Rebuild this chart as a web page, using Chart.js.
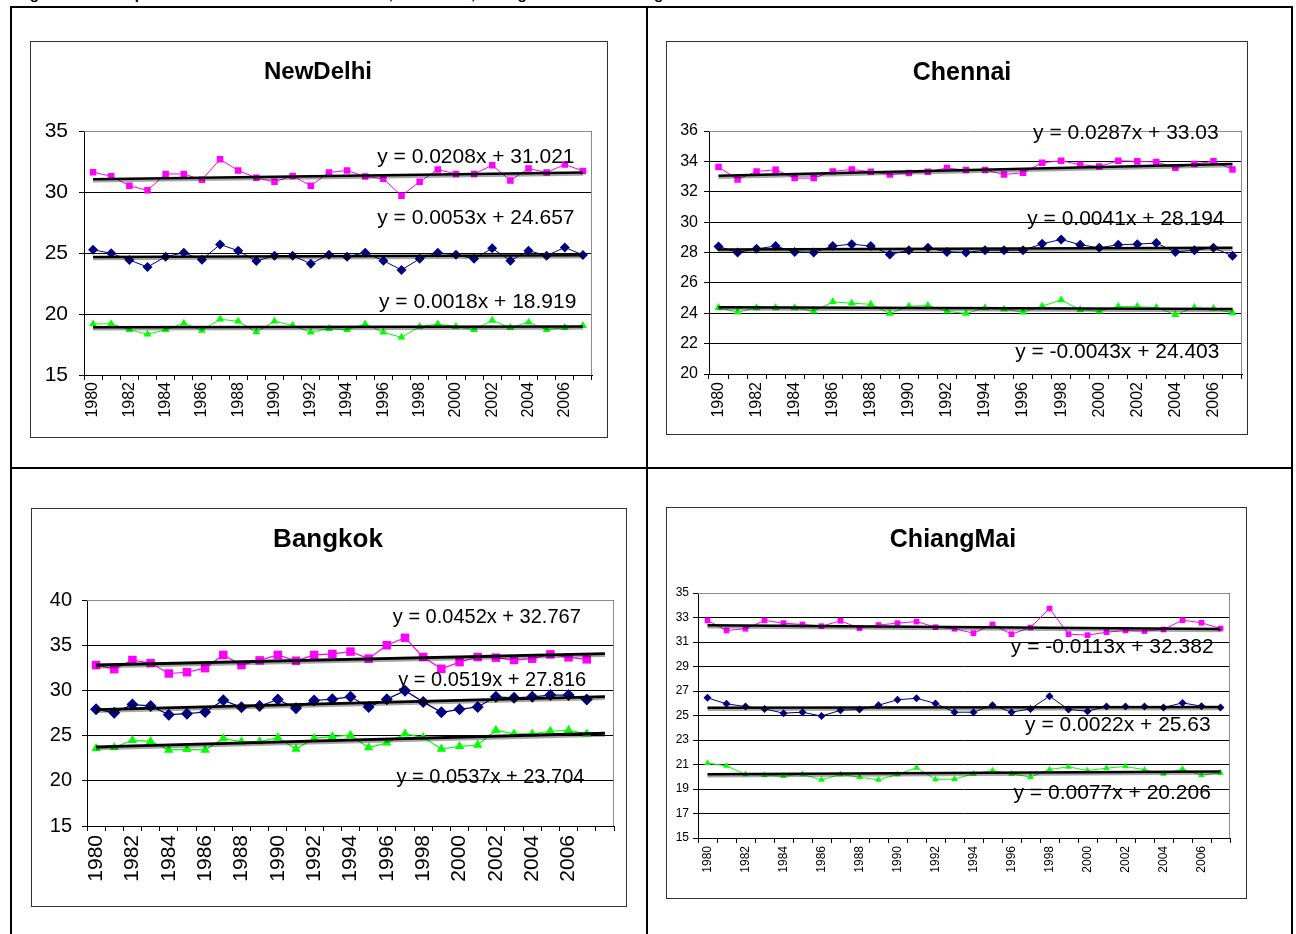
<!DOCTYPE html>
<html>
<head>
<meta charset="utf-8">
<script src="https://cdn.jsdelivr.net/npm/chart.js@4.4.1/dist/chart.umd.min.js"></script>
<style>
  body { margin:0; width:1296px; height:934px; overflow:hidden; position:relative; background:#fff;
         font-family:"Liberation Sans", Arial, sans-serif; }
  .rule { position:absolute; background:#000; }
  .box { position:absolute; border:1px solid #333; background:#fff; overflow:hidden; }
  .box canvas { display:block; }
  #caption { position:absolute; left:14px; top:-14px; line-height:16px; font-weight:bold; font-size:15px;
             white-space:nowrap; letter-spacing:1.2px; word-spacing:4px; color:#000; }
</style>
</head>
<body>
<div id="caption">Figure 3: Temperature trends of New Delhi, Chennai, Bangkok and Chiang Mai</div>

<!-- table rules -->
<div class="rule" style="left:10px;top:6px;width:1283px;height:2px"></div>
<div class="rule" style="left:10px;top:6px;width:2px;height:928px"></div>
<div class="rule" style="left:646px;top:6px;width:2px;height:928px"></div>
<div class="rule" style="left:1291px;top:6px;width:2px;height:928px"></div>
<div class="rule" style="left:10px;top:467px;width:1283px;height:2px"></div>

<div class="box" style="left:30px;top:41px;width:576px;height:395px"><canvas id="delhi" width="576" height="395"></canvas></div>
<div class="box" style="left:666px;top:41px;width:580px;height:392px"><canvas id="chennai" width="580" height="392"></canvas></div>
<div class="box" style="left:31px;top:508px;width:594px;height:397px"><canvas id="bangkok" width="594" height="397"></canvas></div>
<div class="box" style="left:666px;top:507px;width:579px;height:390px"><canvas id="chiangmai" width="579" height="390"></canvas></div>

<script>
// ---- data -------------------------------------------------------------
const years = ['1980','1981','1982','1983','1984','1985','1986','1987','1988','1989',
               '1990','1991','1992','1993','1994','1995','1996','1997','1998','1999',
               '2000','2001','2002','2003','2004','2005','2006','2007'];

// New Delhi (°C)
const delhiMax  = [31.62,31.30,30.51,30.14,31.48,31.48,31.00,32.68,31.76,31.16,30.84,31.32,30.51,31.60,
                   31.76,31.27,31.08,29.70,30.84,31.84,31.48,31.48,32.19,30.95,31.92,31.60,32.25,31.73];
const delhiMean = [25.27,24.97,24.43,23.85,24.70,25.02,24.45,25.70,25.19,24.34,24.78,24.78,24.12,24.86,
                   24.70,25.02,24.37,23.61,24.53,25.02,24.86,24.53,25.38,24.37,25.19,24.78,25.46,24.84];
const delhiMin  = [19.18,19.20,18.71,18.34,18.71,19.24,18.66,19.57,19.40,18.52,19.40,19.07,18.50,18.80,
                   18.71,19.18,18.50,18.09,18.96,19.18,18.96,18.71,19.48,18.88,19.32,18.71,18.88,19.04];
const delhiSlopes     = [0.0208, 0.0053, 0.0018];
const delhiIntercepts = [31.021, 24.657, 18.919];

// Chennai (°C)
const chennaiMax  = [33.63,32.81,33.34,33.45,32.90,32.90,33.34,33.47,33.32,33.14,33.23,33.32,33.56,33.43,
                     33.43,33.14,33.25,33.91,34.04,33.78,33.67,34.04,34.00,33.96,33.58,33.82,34.00,33.47];
const chennaiMean = [28.40,28.00,28.24,28.42,28.04,28.00,28.42,28.55,28.42,27.87,28.15,28.31,28.04,28.00,
                     28.15,28.15,28.15,28.57,28.86,28.51,28.31,28.51,28.55,28.62,28.04,28.15,28.31,27.78];
const chennaiMin  = [24.37,24.07,24.35,24.35,24.35,24.13,24.75,24.66,24.59,23.98,24.46,24.51,24.13,23.98,
                     24.35,24.26,24.07,24.46,24.88,24.22,24.13,24.44,24.44,24.37,23.91,24.37,24.31,24.02];
const chennaiSlopes     = [0.0287, 0.0041, -0.0043];
const chennaiIntercepts = [33.03, 28.194, 24.403];

// Bangkok (°C)
const bangkokMax  = [32.80,32.35,33.36,33.02,31.87,32.01,32.46,33.92,32.80,33.32,33.92,33.28,33.92,34.03,
                     34.29,33.51,35.00,35.82,33.69,32.39,33.13,33.69,33.62,33.36,33.51,33.99,33.66,33.43];
const bangkokMean = [27.91,27.54,28.43,28.28,27.31,27.43,27.61,28.92,28.13,28.28,28.99,28.02,28.88,29.03,
                     29.29,28.17,29.03,29.96,28.73,27.57,27.91,28.17,29.29,29.18,29.29,29.48,29.48,28.99];
const bangkokMin  = [23.59,23.70,24.48,24.37,23.41,23.48,23.41,24.67,24.33,24.33,24.78,23.52,24.70,24.89,
                     25.04,23.67,24.19,25.19,24.81,23.52,23.81,23.96,25.59,25.19,25.19,25.48,25.59,25.19];
const bangkokSlopes     = [0.0452, 0.0519, 0.0537];
const bangkokIntercepts = [32.767, 27.816, 23.704];
const bangkokYears = years.concat(['']);   // axis runs one category past 2007

// Chiang Mai (°C)
const chiangMaiMax  = [32.76,31.94,32.08,32.76,32.54,32.43,32.29,32.73,32.13,32.38,32.54,32.67,32.21,32.08,
                       31.72,32.43,31.64,32.18,33.73,31.64,31.56,31.80,31.94,31.89,32.02,32.78,32.57,32.10];
const chiangMaiMean = [26.44,25.95,25.73,25.54,25.19,25.27,24.95,25.43,25.49,25.84,26.28,26.41,25.98,25.27,
                       25.27,25.84,25.27,25.54,26.58,25.49,25.35,25.73,25.73,25.73,25.65,26.03,25.76,25.65];
const chiangMaiMin  = [21.11,20.89,20.19,20.13,20.05,20.19,19.75,20.19,19.97,19.75,20.19,20.73,19.78,19.81,
                       20.24,20.51,20.24,19.97,20.59,20.81,20.51,20.70,20.84,20.57,20.24,20.62,20.13,20.32];
const chiangMaiSlopes     = [-0.0113, 0.0022, 0.0077];
const chiangMaiIntercepts = [32.382, 25.63, 20.206];

// ---- drawing ----------------------------------------------------------
const FONT = "'Liberation Sans', Arial, sans-serif";
Chart.defaults.font.family = FONT;
Chart.defaults.color = '#000';

const PINK = '#ff00ff', NAVY = '#000080', GREEN = '#00ff00';

function equationText(a, b) {
  return 'y = ' + String(a) + 'x + ' + String(b);
}

// gray border along the top and right of the plot area
const plotFrame = {
  id: 'plotFrame',
  beforeDatasetsDraw(chart) {
    const { ctx, chartArea: a } = chart;
    ctx.save();
    ctx.strokeStyle = '#8c8c8c';
    ctx.lineWidth = 1;
    ctx.beginPath();
    ctx.moveTo(a.left, Math.round(a.top) + 0.5);
    ctx.lineTo(Math.round(a.right) - 0.5, Math.round(a.top) + 0.5);
    ctx.lineTo(Math.round(a.right) - 0.5, a.bottom);
    ctx.stroke();
    ctx.restore();
  }
};

// soft drop shadow under the trend lines
const trendShadow = {
  id: 'trendShadow',
  beforeDatasetDraw(chart, args) {
    if (chart.data.datasets[args.index].isTrend) {
      chart.ctx.save();
      chart.ctx.shadowColor = 'rgba(0,0,0,0.35)';
      chart.ctx.shadowOffsetY = 2;
      chart.ctx.shadowBlur = 0;
    }
  },
  afterDatasetDraw(chart, args) {
    if (chart.data.datasets[args.index].isTrend) chart.ctx.restore();
  }
};

// trend equations, anchored in data coordinates
const equations = {
  id: 'equations',
  afterDatasetsDraw(chart, args, opts) {
    const { ctx } = chart;
    const xs = chart.scales.x, ys = chart.scales.y;
    ctx.save();
    ctx.fillStyle = '#000';
    ctx.font = opts.size + 'px ' + FONT;
    ctx.textAlign = 'center';
    ctx.textBaseline = 'middle';
    opts.items.forEach(it => {
      ctx.fillText(it.text, xs.getPixelForValue(it.at), ys.getPixelForValue(it.value));
    });
    ctx.restore();
  }
};

// chart heading
const heading = {
  id: 'heading',
  afterDraw(chart, args, opts) {
    const { ctx } = chart;
    ctx.save();
    ctx.fillStyle = '#000';
    ctx.font = 'bold ' + opts.size + 'px ' + FONT;
    ctx.textAlign = 'center';
    ctx.textBaseline = 'middle';
    ctx.fillText(opts.text, opts.x, opts.y);
    ctx.restore();
  }
};

function buildChart(id, spec) {
  const n = spec.labels.length;
  const trendSets = spec.slopes.map((a, k) => {
    const pts = spec.labels.map(() => null);
    pts[0] = a * 1 + spec.intercepts[k];
    pts[n - 1] = a * n + spec.intercepts[k];
    return {
      label: 'trend' + k, data: pts, isTrend: true, spanGaps: true,
      borderColor: '#000', borderWidth: spec.trendWidth, pointRadius: 0, tension: 0
    };
  });
  const series = [
    { label: 'Max',  data: spec.series[0], borderColor: PINK,  backgroundColor: PINK,
      pointStyle: 'rect', pointRadius: spec.marks[0] },
    { label: 'Mean', data: spec.series[1], borderColor: NAVY,  backgroundColor: NAVY,
      pointStyle: 'rectRot', pointRadius: spec.marks[1] },
    { label: 'Min',  data: spec.series[2], borderColor: GREEN, backgroundColor: GREEN,
      pointStyle: 'triangle', pointRadius: spec.marks[2] }
  ].map(d => Object.assign(d, { borderWidth: spec.lineWidth, pointBorderWidth: 0, tension: 0 }));

  const eqItems = spec.slopes.map((a, k) => ({
    text: equationText(a, spec.intercepts[k]), at: spec.eqAt[k][0], value: spec.eqAt[k][1]
  }));

  return new Chart(document.getElementById(id), {
    type: 'line',
    data: { labels: spec.labels, datasets: trendSets.concat(series) },
    options: {
      responsive: false, animation: false, events: [],
      layout: { padding: { top: spec.area.top, right: spec.area.right, left: 0, bottom: 0 } },
      plugins: {
        legend: { display: false }, tooltip: { enabled: false }, title: { display: false },
        heading: { text: spec.title, x: spec.titleAt[0], y: spec.titleAt[1], size: spec.titleSize },
        equations: { items: eqItems, size: spec.eqSize }
      },
      scales: {
        x: {
          type: 'category', offset: true,
          grid: { drawOnChartArea: false, drawTicks: true, tickLength: 5, color: '#000', lineWidth: 1, offset: true },
          border: { display: true, color: '#000', width: 1 },
          ticks: {
            autoSkip: false, minRotation: 90, maxRotation: 90, padding: spec.xPad,
            font: { size: spec.xFont }, color: '#000',
            callback: (v, i) => (i % 2 === 0 ? spec.labels[i] : '')
          },
          afterFit(s) { s.height = spec.area.xHeight; s.paddingLeft = 0; s.paddingRight = 0; }
        },
        y: {
          type: 'linear', min: spec.yMin, max: spec.yMax,
          grid: { color: '#000', lineWidth: 1, tickLength: 5, drawTicks: true },
          border: { display: true, color: '#000', width: 1 },
          ticks: { stepSize: spec.yStep, padding: spec.yPad, font: { size: spec.yFont }, color: '#000' },
          afterFit(s) { s.width = spec.area.yWidth; s.paddingTop = 0; s.paddingBottom = 0; }
        }
      }
    },
    plugins: [plotFrame, trendShadow, equations, heading]
  });
}

buildChart('delhi', {
  title: 'NewDelhi', titleAt: [287, 30], titleSize: 24,
  labels: years, series: [delhiMax, delhiMean, delhiMin],
  slopes: delhiSlopes, intercepts: delhiIntercepts,
  eqAt: [[21.1, 32.87], [21.1, 27.87], [21.2, 20.98]], eqSize: 21,
  yMin: 15, yMax: 35, yStep: 5, yFont: 21, yPad: 11, xFont: 16, xPad: 2,
  marks: [4.6, 5, 4.6], lineWidth: 1, trendWidth: 2.5,
  area: { top: 89, right: 15, yWidth: 53, xHeight: 62 }
});

buildChart('chennai', {
  title: 'Chennai', titleAt: [295, 31], titleSize: 25,
  labels: years, series: [chennaiMax, chennaiMean, chennaiMin],
  slopes: chennaiSlopes, intercepts: chennaiIntercepts,
  eqAt: [[21.4, 35.87], [21.4, 30.19], [20.95, 21.41]], eqSize: 21,
  yMin: 20, yMax: 36, yStep: 2, yFont: 16, yPad: 6, xFont: 16, xPad: 3,
  marks: [4.6, 5, 4.6], lineWidth: 1, trendWidth: 2.5,
  area: { top: 89, right: 1, yWidth: 42, xHeight: 60 }
});

buildChart('bangkok', {
  title: 'Bangkok', titleAt: [296, 31], titleSize: 26,
  labels: bangkokYears, series: [bangkokMax, bangkokMean, bangkokMin],
  slopes: bangkokSlopes, intercepts: bangkokIntercepts,
  eqAt: [[21.5, 38.12], [21.8, 31.15], [21.7, 20.42]], eqSize: 20,
  yMin: 15, yMax: 40, yStep: 5, yFont: 20, yPad: 10, xFont: 21, xPad: 4,
  marks: [6, 6, 5.4], lineWidth: 1.2, trendWidth: 2.8,
  area: { top: 91, right: 12, yWidth: 55, xHeight: 80 }
});

buildChart('chiangmai', {
  title: 'ChiangMai', titleAt: [286, 32], titleSize: 25,
  labels: years, series: [chiangMaiMax, chiangMaiMean, chiangMaiMin],
  slopes: chiangMaiSlopes, intercepts: chiangMaiIntercepts,
  eqAt: [[21.3, 30.59], [21.6, 24.22], [21.3, 18.67]], eqSize: 21,
  yMin: 15, yMax: 35, yStep: 2, yFont: 12, yPad: 4, xFont: 12, xPad: 3,
  marks: [4, 4, 3.8], lineWidth: 1, trendWidth: 2.5,
  area: { top: 85, right: 16, yWidth: 31, xHeight: 60 }
});
</script>
</body>
</html>
